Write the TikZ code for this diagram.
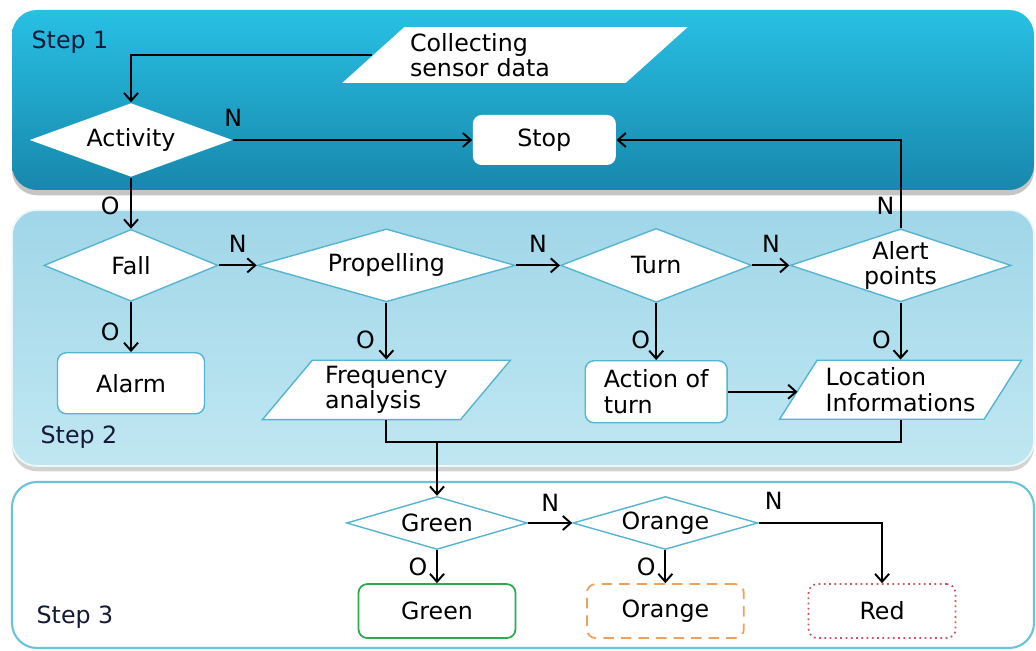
\documentclass[tikz,border=0pt]{standalone}
\usepackage{fontspec}
\setmainfont{DejaVu Sans}
\usetikzlibrary{arrows.meta,shapes.geometric,positioning,shadows}
\definecolor{sonetop}{RGB}{40,192,228}
\definecolor{sonebot}{RGB}{24,135,172}
\definecolor{stwotop}{RGB}{160,214,232}
\definecolor{stwobot}{RGB}{192,231,242}
\definecolor{sthreeline}{RGB}{105,195,220}
\definecolor{shapeline}{RGB}{85,180,208}
\definecolor{okgreen}{RGB}{45,170,80}
\definecolor{warnorange}{RGB}{240,160,90}
\definecolor{alertred}{RGB}{200,85,95}
\definecolor{steptext}{RGB}{20,25,55}
\tikzstyle{arrow} = [line width=1.1pt,-{Straight Barb[length=4.5pt,width=8pt]}]
\tikzstyle{line} = [line width=1.1pt]
\tikzstyle{decision} = [diamond, fill=white, draw=shapeline, line width=0.8pt, inner sep=0pt, align=center]
\tikzstyle{blocknode} = [rectangle, rounded corners=5pt, fill=white, draw=shapeline, line width=0.8pt]
\tikzstyle{datanode} = [trapezium, trapezium stretches body, fill=white, draw=shapeline, line width=0.8pt, align=left]
\tikzstyle{lbl} = [inner sep=1pt]
\tikzstyle{steplabel} = [text=steptext]

\begin{document}
\begin{tikzpicture}[x=0.02cm, y=-0.02cm, font=\fontsize{13.5}{14.5}\selectfont]
\useasboundingbox (0,0) rectangle (1036,651);
\fill[white] (0,0) rectangle (1036,651);

% Bands
\path[top color=sonetop, bottom color=sonebot, rounded corners=0.5cm,
  drop shadow={opacity=0.45, shadow xshift=0pt, shadow yshift=-3pt}] (12,10) rectangle (1034,190);
\path[top color=stwotop, bottom color=stwobot, draw=white!80!stwotop, line width=1pt, rounded corners=0.5cm,
  drop shadow={opacity=0.35, shadow xshift=0pt, shadow yshift=-3pt}] (12,210) rectangle (1034,466);
\path[fill=white, draw=sthreeline, line width=1.2pt, rounded corners=0.5cm] (12,482) rectangle (1034,648);

\node[steplabel] (stepone) at (70,42) {Step 1};
\node[steplabel] (steptwo) at (79,437) {Step 2};
\node[steplabel] (stepthree) at (75,617) {Step 3};

% Step 1
\node[datanode, draw=none, trapezium left angle=42, trapezium right angle=138, minimum width=6.88cm, minimum height=1.1cm, text width=4.2cm] (collect) at (515,55) {Collecting\\sensor data};
\node[decision, draw=none, aspect=2.74, minimum width=4.06cm, minimum height=1.48cm] (act) at (131,140) {Activity};
\node[blocknode, draw=none, minimum width=2.86cm, minimum height=1cm, right=4.78cm of act] (stop) {Stop};

% Step 2
\node[decision, aspect=2.42, minimum width=3.48cm, minimum height=1.44cm, below=1.02cm of act] (fall) {Fall};
\node[decision, aspect=3.53, minimum width=5.16cm, minimum height=1.46cm, right=0.76cm of fall] (prop) {Propelling};
\node[decision, aspect=2.58, minimum width=3.82cm, minimum height=1.48cm, right=0.88cm of prop] (turn) {Turn};
\node[decision, aspect=3.03, minimum width=4.42cm, minimum height=1.46cm, right=0.74cm of turn] (alert) {Alert\\points};

\node[blocknode, minimum width=2.94cm, minimum height=1.22cm, below=1.0cm of fall] (alarm) {Alarm};
\node[datanode, trapezium left angle=50, trapezium right angle=130, minimum width=4.96cm, minimum height=1.08cm, below=1.14cm of prop] (freq) {Frequency\\analysis};
\node[blocknode, align=left, minimum width=2.84cm, minimum height=1.24cm, below=1.14cm of turn] (turnact) {Action of\\turn};
\node[datanode, trapezium left angle=56, trapezium right angle=124, minimum width=4.84cm, minimum height=1.18cm, below=1.14cm of alert] (loc) {Location\\Informations};

% Step 3
\node[decision, aspect=3.4, minimum width=3.62cm, minimum height=1.06cm] (greend) at (437,523) {Green};
\node[decision, aspect=3.5, minimum width=3.7cm, minimum height=1.06cm, right=0.88cm of greend] (oranged) {Orange};
\node[blocknode, draw=okgreen, line width=1pt, minimum width=3.14cm, minimum height=1.08cm, below=0.66cm of greend] (greenbox) {Green};
\node[blocknode, draw=warnorange, line width=1pt, dashed, dash pattern=on 6pt off 4pt, minimum width=3.14cm, minimum height=1.08cm, below=0.66cm of oranged] (orangebox) {Orange};
\node[blocknode, draw=alertred, line width=1pt, dotted, minimum width=2.94cm, minimum height=1.08cm, right=1.26cm of orangebox] (redbox) {Red};
\coordinate (merge) at (greend.north |- 0,442);

% Connectors
\draw[arrow] (collect.west) -| (act.north);
\draw[arrow] (act.east) -- node[lbl, pos=0, above=6pt]{N} (stop.west);
\draw[arrow] (act.south) -- node[lbl, pos=0.55, left=5pt]{O} (fall.north);
\draw[arrow] (fall.east) -- node[lbl, midway, above=6pt]{N} (prop.west);
\draw[arrow] (prop.east) -- node[lbl, midway, above=6pt]{N} (turn.west);
\draw[arrow] (turn.east) -- node[lbl, midway, above=6pt]{N} (alert.west);
\draw[arrow] (alert.north) |- node[lbl, pos=0, anchor=south east, xshift=-2pt, yshift=6pt]{N} (stop.east);
\draw[arrow] (fall.south) -- node[lbl, pos=0.6, left=5pt]{O} (alarm.north);
\draw[arrow] (prop.south) -- node[lbl, pos=0.65, left=5pt]{O} (freq.north);
\draw[arrow] (turn.south) -- node[lbl, pos=0.65, left=2pt]{O} (turnact.north);
\draw[arrow] (alert.south) -- node[lbl, pos=0.65, left=4pt]{O} (loc.north);
\draw[arrow] (turnact.east) -- (turnact.east -| loc.west);
\draw[line] (freq.south) |- (merge) -| (loc.south -| alert.south);
\draw[arrow] (merge) -- (greend.north);
\draw[arrow] (greend.east) -- node[lbl, midway, above=5pt]{N} (oranged.west);
\draw[arrow] (oranged.east) -| node[lbl, pos=0, anchor=south west, xshift=2pt, yshift=6pt]{N} (redbox.north);
\draw[arrow] (greend.south) -- node[lbl, midway, left=4pt]{O} (greenbox.north);
\draw[arrow] (oranged.south) -- node[lbl, midway, left=4pt]{O} (orangebox.north);
\end{tikzpicture}
\end{document}
